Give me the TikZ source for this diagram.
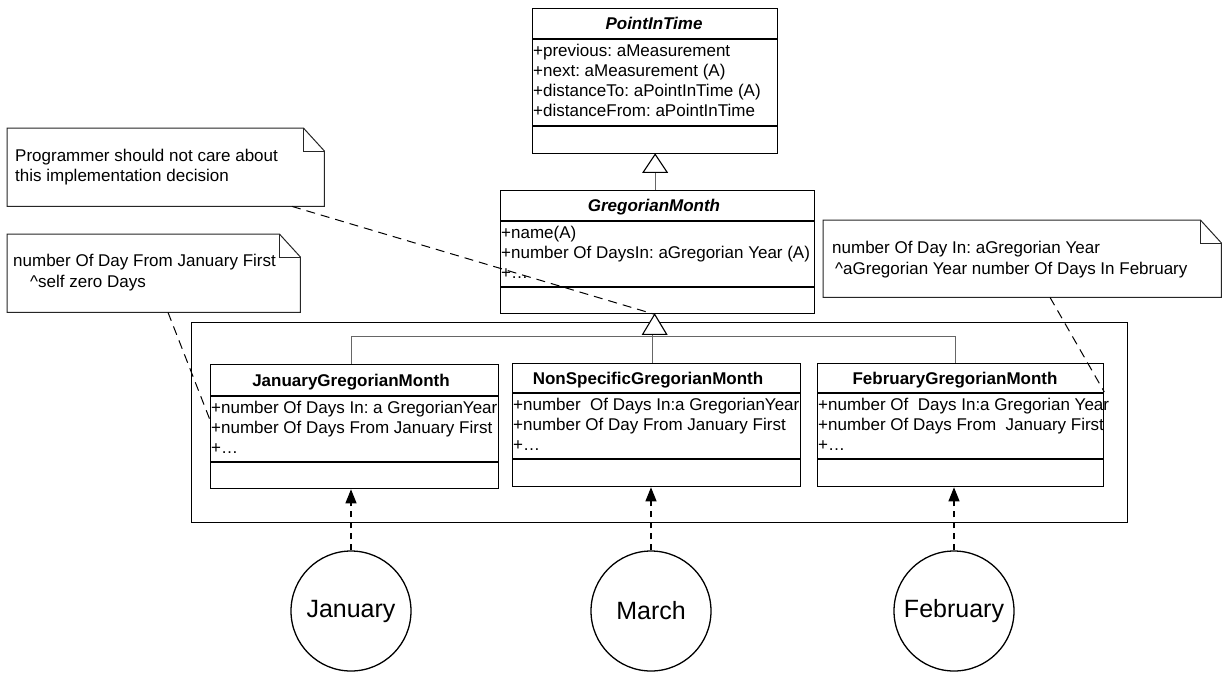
\documentclass[tikz,border=0pt]{standalone}
\usepackage{fontspec}
\setmainfont{Liberation Sans}
\usetikzlibrary{arrows.meta,calc}
\frenchspacing

\tikzset{
  classbox/.style={draw, line width=1.3pt, fill=white, inner sep=0pt, anchor=north west},
  compsep/.style={line width=1.3pt},
  attr/.style={inner sep=0pt, anchor=base west, font=\fontsize{17}{20}\selectfont},
  ctitle/.style={inner sep=0pt, anchor=base, font=\fontsize{17}{20}\selectfont\bfseries},
  gen/.style={draw=black!60, line width=0.9pt},
  hollowtip/.style={draw, line width=1.1pt, fill=white},
  notebox/.style={inner sep=0pt, anchor=north west},
  noteline/.style={draw=black!85, line width=1pt, fill=white},
  notelink/.style={dash pattern=on 9pt off 6pt, line width=1pt},
  dep/.style={dash pattern=on 6pt off 5pt, line width=1.1pt, -{Triangle[length=14pt,width=11pt]}},
  inst/.style={circle, draw, line width=1.3pt, minimum size=120pt, inner sep=0pt, font=\fontsize{25}{30}\selectfont},
}

% compartments of a class box: #1 box name, #2/#3 separator offsets,
% #4 title x offset, #5 title, #6 attribute lines
\newcommand{\compartments}[6]{%
  \draw[compsep] ($(#1.north west)+(0,#2)$) -- ($(#1.north east)+(0,#2)$);
  \draw[compsep] ($(#1.north west)+(0,#3)$) -- ($(#1.north east)+(0,#3)$);
  \node[ctitle, name=#1-t] at ($(#1.north west)+(#4,{#2/2+6})$) {#5};
  \foreach \t [count=\i] in {#6}{
    \pgfmathsetmacro{\yy}{#2+17+(\i-1)*20.3}
    \node[attr, name=#1-a\i] at ($(#1.north west)+(1,\yy)$) {\t};
  }
}

% note with folded corner
\newcommand{\notepath}[1]{%
  \draw[noteline] (#1.north west) -- ($(#1.north east)+(-21,0)$) -- ($(#1.north east)+(0,23)$)
    -- (#1.south east) -- (#1.south west) -- cycle;
  \draw[noteline, fill=none] ($(#1.north east)+(-21,0)$) -- ($(#1.north east)+(-21,23)$) -- ($(#1.north east)+(0,23)$);
}

\begin{document}
\begin{tikzpicture}[x=1pt,y=-1pt]
\useasboundingbox (0,0) rectangle (1225,675);

% package frame around the concrete months
\node[draw, line width=1.3pt, inner sep=0pt, anchor=north west, minimum width=936pt, minimum height=200pt] (pkg) at (191,322) {};

% classes
\node[classbox, minimum width=245pt, minimum height=145pt] (pit) at (532,8) {};
\compartments{pit}{31}{118}{122}{\itshape PointInTime}{{+previous: aMeasurement},{+next: aMeasurement (A)},{+distanceTo: aPointInTime (A)},{+distanceFrom: aPointInTime}}

\node[classbox, minimum width=314pt, minimum height=123pt] (gm) at (500,190) {};
\compartments{gm}{31}{97}{154}{\itshape GregorianMonth}{{+name(A)},{+number Of DaysIn: aGregorian Year (A)},{+…}}

\node[classbox, minimum width=288pt, minimum height=124pt] (jan) at (210,364) {};
\compartments{jan}{32}{98}{141}{JanuaryGregorianMonth}{{+number Of Days In: a GregorianYear},{+number Of Days From January First},{+…}}

\node[classbox, minimum width=288pt, minimum height=123pt] (ns) at (512,363) {};
\compartments{ns}{30}{96}{136}{NonSpecificGregorianMonth}{{+number\ \ Of Days In:a GregorianYear},{+number Of Day From January First},{+…}}

\node[classbox, minimum width=286pt, minimum height=123pt] (feb) at (817,363) {};
\compartments{feb}{30}{96}{138}{FebruaryGregorianMonth}{{+number Of\ \ Days In:a Gregorian Year},{+number Of Days From\ \ January First},{+…}}

% generalization: GregorianMonth -> PointInTime
\coordinate (g1) at ($(pit.south)+(0,18)$);
\draw[gen] (g1) -- (g1 |- gm.north);
\draw[hollowtip] (pit.south) -- ($(pit.south)+(12,18)$) -- ($(pit.south)+(-12,18)$) -- cycle;

% generalization: concrete months -> GregorianMonth
\coordinate (a2) at ($(gm.south)+(-3,0)$);
\coordinate (g2) at ($(a2)+(0,20)$);
\coordinate (bus) at ($(g2)+(0,2)$);
\draw[gen] (jan.north -| jan-t) |- (bus) -| (feb-t |- feb.north);
\draw[gen] ($(g2)+(-2,0)$) -- ($(g2 |- ns.north)+(-2,0)$);
\draw[hollowtip] (a2) -- ($(a2)+(12,20)$) -- ($(a2)+(-12,20)$) -- cycle;

% notes
\node[notebox, minimum width=317pt, minimum height=78pt] (n1) at (7,128) {};
\notepath{n1}
\node[attr, name=n1-l1] at (15,161) {Programmer should not care about};
\node[attr, name=n1-l2] at (15,181) {this implementation decision};

\node[notebox, minimum width=293pt, minimum height=78pt] (n2) at (7,234) {};
\notepath{n2}
\node[attr, name=n2-l1] at (13,266) {number Of Day From January First};
\node[attr, name=n2-l2] at (30,287) {\textasciicircum self zero Days};

\node[notebox, minimum width=398pt, minimum height=77pt] (n3) at (823,220) {};
\notepath{n3}
\node[attr, name=n3-l1] at (832,253) {number Of Day In: aGregorian Year};
\node[attr, name=n3-l2] at (835,274) {\textasciicircum aGregorian Year number Of Days In February};

% month instances
\node[inst] (cjan) at (351,611) {January};
\node[inst] (cmar) at (651,611) {March};
\node[inst] (cfeb) at (954,611) {February};

\draw[dep] (cjan.north) -- (cjan.north |- jan.south);
\draw[dep] (cmar.north) -- (cmar.north |- ns.south);
\draw[dep] (cfeb.north) -- (cfeb.north |- feb.south);

% note anchors
\draw[notelink] ($(n1.south west)+(285,0)$) -- (a2);
\draw[notelink] ($(n2.south west)+(161,0)$) -- ($(jan.north west)+(0,56)$);
\draw[notelink] ($(n3.south west)+(227,0)$) -- ($(feb.north east)+(0,29)$);
\end{tikzpicture}
\end{document}
